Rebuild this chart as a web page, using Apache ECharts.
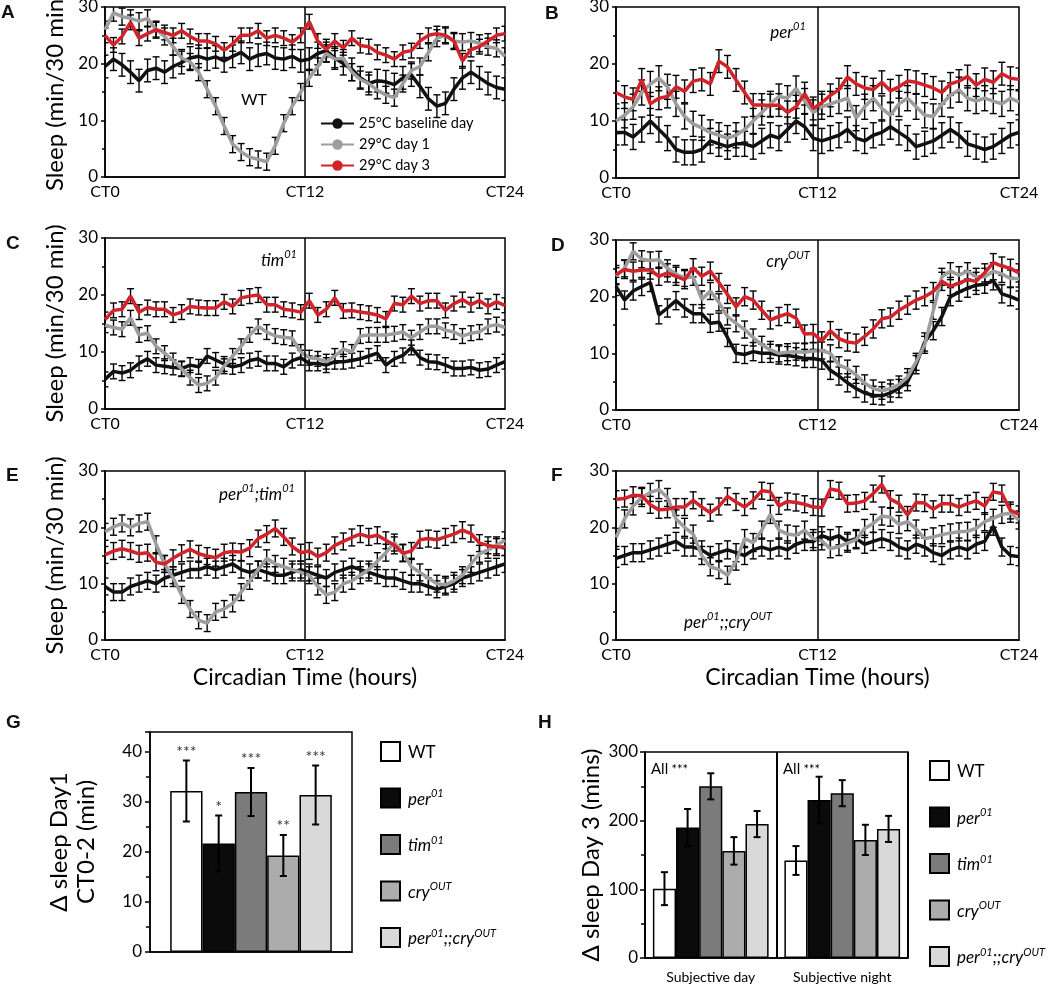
<!DOCTYPE html>
<html><head><meta charset="utf-8">
<script src="https://cdn.jsdelivr.net/npm/echarts/dist/echarts.min.js"></script>
<style>html,body{margin:0;padding:0;background:#fff}#c{width:1050px;height:986px}</style>
</head><body><div id="c"></div>
<script>
// ---------- data: sleep per 30-min bin (48 bins, CT0..CT24) ----------
const LINE_NAMES = ['25°C baseline day', '29°C day 1', '29°C day 3'];
const X_TICKS = ['CT0', 'CT12', 'CT24'];

const A_base = [19.5,20.8,19.8,18.5,17.0,18.8,19.2,18.5,19.5,20.2,21.0,21.3,20.8,21.2,20.5,21.3,22.0,20.8,21.5,21.8,21.0,20.8,21.3,20.5,20.8,21.8,22.3,21.0,20.0,19.0,17.5,16.5,17.0,16.8,16.3,17.5,18.0,16.0,13.8,12.5,13.0,15.5,17.5,18.5,17.5,16.5,15.8,15.5];
const A_day1 = [26.0,29.0,28.3,28.0,27.5,28.0,26.0,24.8,23.0,21.0,20.3,18.5,15.5,12.5,9.0,5.8,4.4,3.5,3.1,2.7,5.5,9.5,12.5,15.0,17.5,19.5,21.8,20.8,21.0,18.5,17.2,16.5,15.3,14.5,14.0,16.5,18.8,19.5,22.0,24.5,25.0,24.0,23.8,24.0,23.6,23.0,22.7,21.3];
const A_day3 = [25.0,23.3,24.8,27.3,24.5,25.3,26.0,25.5,25.0,25.8,24.8,24.0,24.0,23.5,22.4,23.5,25.0,25.0,25.8,24.5,25.0,24.5,23.8,25.0,27.4,24.0,22.5,24.0,22.8,24.5,23.2,23.0,22.0,21.5,20.8,22.0,22.3,24.0,25.0,25.3,25.0,24.0,20.5,22.5,23.0,24.0,25.0,25.3];
const A_sem = [2.0, 1.5, 1.3];

const B_base = [8.0,8.0,7.2,8.5,10.0,8.5,7.0,5.0,4.5,4.5,5.0,6.5,6.0,5.5,6.0,6.0,5.5,6.5,7.5,7.0,8.5,10.0,9.0,7.0,6.5,7.0,7.5,8.5,7.0,6.5,7.5,8.0,9.0,8.0,7.0,5.5,6.0,6.5,7.5,8.5,7.5,6.0,5.5,5.0,5.5,6.5,7.5,8.0];
const B_day1 = [10.0,11.0,12.5,15.0,16.5,17.5,16.0,13.0,10.8,9.5,8.8,8.0,7.5,7.0,7.5,8.5,10.0,11.5,13.0,14.3,14.0,15.7,13.5,11.5,12.5,13.0,13.5,14.0,10.5,12.5,14.0,12.2,11.0,13.0,14.0,12.5,11.0,10.8,13.0,14.5,15.5,14.0,13.5,14.0,13.5,13.0,14.0,13.3];
const B_day3 = [15.0,14.2,13.8,17.2,13.0,14.0,14.3,16.0,15.2,17.0,17.3,16.5,20.5,19.5,17.2,15.0,12.8,12.8,12.7,12.8,11.5,12.5,14.8,12.2,13.2,14.5,15.5,17.7,16.5,15.8,15.5,16.8,15.3,16.0,17.0,16.8,16.3,15.8,15.0,16.5,17.0,17.8,16.3,17.3,16.8,18.3,17.5,17.3];
const B_sem = [2.2, 2.2, 2.0];

const C_base = [5.2,6.6,6.3,6.8,8.0,8.8,7.7,7.5,7.3,7.1,7.7,7.4,9.3,8.6,7.9,7.4,7.7,8.5,8.8,8.0,8.0,7.4,8.5,9.0,8.0,8.0,7.7,8.3,8.3,8.5,8.8,9.3,9.8,7.7,8.8,9.4,10.8,9.0,8.3,8.2,7.7,7.1,7.1,7.3,6.8,7.0,7.7,8.3];
const C_day1 = [14.7,14.3,14.0,16.0,13.0,13.3,11.0,9.8,8.5,7.0,5.5,4.2,4.5,5.5,7.5,9.3,11.0,13.0,14.5,13.5,12.8,12.6,12.4,10.0,9.0,8.8,8.3,9.3,10.5,10.0,12.8,13.0,13.0,13.0,13.2,13.5,12.5,13.5,14.5,14.5,13.8,13.5,12.8,13.3,13.5,14.5,14.8,14.3];
const C_day3 = [15.7,17.3,17.5,19.8,17.0,17.8,17.5,17.5,16.5,17.0,18.0,17.8,17.7,17.7,18.8,18.0,19.5,19.8,20.0,18.3,18.3,17.5,17.3,17.0,19.0,16.5,17.5,19.5,17.2,17.3,17.0,16.8,16.5,15.8,18.5,18.3,19.8,18.5,19.0,19.0,17.3,18.5,19.2,18.3,19.0,18.0,18.8,18.2];
const C_sem = [1.3, 1.3, 1.3];

const D_base = [21.8,19.4,21.0,21.8,22.5,16.8,18.0,19.3,18.0,17.0,17.0,15.3,15.5,12.8,10.0,9.8,10.3,10.0,10.0,9.7,9.6,9.4,9.1,9.1,8.8,7.0,6.0,4.8,3.8,3.0,2.6,2.5,3.0,3.8,5.0,8.0,12.0,14.0,16.5,20.0,20.8,21.5,22.0,22.2,22.8,20.5,20.0,19.4];
const D_day1 = [23.6,25.0,28.0,26.6,26.4,26.5,25.0,24.0,23.3,23.5,19.5,21.0,19.0,16.5,15.3,14.2,12.8,11.5,10.6,10.0,10.2,10.3,10.2,10.4,10.5,10.0,7.9,7.3,6.2,4.7,3.8,3.4,3.8,4.5,5.8,8.5,11.5,17.5,23.5,24.5,23.8,24.5,23.5,23.5,24.5,24.0,23.2,23.2];
const D_day3 = [23.9,24.8,24.5,24.7,24.7,23.6,24.2,23.6,23.0,25.1,23.6,24.5,22.5,20.4,18.2,20.0,19.4,17.6,15.9,16.5,17.0,16.2,13.4,13.5,12.2,14.0,12.6,12.0,11.8,13.0,14.3,16.1,16.4,17.6,18.5,19.4,20.0,20.9,22.7,21.8,22.4,23.0,22.7,24.2,26.0,25.4,25.0,24.2];
const D_sem = [1.6, 1.5, 1.6];

const E_base = [9.5,8.5,8.5,9.5,10.0,10.5,10.0,11.0,11.5,12.0,12.5,12.5,13.0,12.5,13.0,13.5,12.5,12.0,12.5,12.0,11.5,11.5,12.0,12.5,12.0,11.5,11.0,12.0,12.5,13.0,12.5,12.0,11.5,11.0,11.0,10.5,10.0,10.0,9.5,9.0,9.5,10.0,11.0,11.5,12.0,12.5,13.0,13.5];
const E_day1 = [19.2,20.1,20.7,20.0,20.7,21.0,17.0,13.5,11.0,8.0,5.5,3.5,3.0,5.0,5.5,6.5,8.5,10.5,12.5,14.5,13.5,13.0,12.5,12.0,11.5,9.5,8.0,8.5,10.0,10.5,11.5,12.5,14.0,15.5,17.3,15.5,13.0,12.0,11.0,10.0,9.8,10.5,11.5,13.5,15.3,16.0,16.8,17.7];
const E_day3 = [15.1,15.8,16.2,15.8,15.3,15.5,13.8,13.5,14.5,15.4,16.1,15.3,14.9,14.6,15.5,15.7,15.6,16.3,18.0,18.8,19.8,18.3,16.6,15.5,15.8,14.8,15.5,16.8,17.5,18.2,18.8,18.3,18.6,17.7,16.8,15.4,15.8,17.8,18.0,17.8,18.3,18.8,19.5,18.9,17.2,16.8,16.5,16.5];
const E_sem = [1.5, 1.5, 1.5];

const F_base = [14.5,15.0,15.5,15.5,16.0,16.5,17.0,17.5,16.5,16.5,16.0,15.0,15.5,16.0,15.5,15.0,16.0,16.5,16.0,16.5,16.0,17.0,17.5,17.5,18.5,18.0,18.5,17.5,18.0,17.0,17.5,18.0,17.5,16.5,16.0,17.0,16.5,15.5,15.0,16.0,16.5,16.0,17.0,17.5,20.2,16.5,15.0,14.8];
const F_day1 = [18.2,21.5,23.8,25.3,26.2,26.7,25.3,21.5,20.0,18.8,15.0,13.0,12.5,11.5,14.0,18.0,17.3,19.5,22.3,19.5,18.8,18.6,19.5,18.0,17.6,16.2,16.6,17.2,17.8,19.8,20.7,22.0,21.8,20.5,21.0,19.7,18.0,18.3,18.7,19.0,19.2,19.3,19.8,21.0,21.6,22.3,22.5,21.3];
const F_day3 = [25.0,25.1,25.7,25.6,24.0,23.1,23.2,23.6,23.6,24.8,23.6,22.6,23.7,25.5,24.5,23.6,24.8,26.5,26.3,23.8,24.6,24.4,24.1,23.6,23.5,26.8,26.5,24.2,24.3,24.7,26.0,27.6,25.0,24.2,22.2,24.4,24.3,23.2,24.2,24.2,23.6,24.2,24.7,23.8,26.3,26.0,23.0,22.3];
const F_sem = [1.6, 1.6, 1.5];

// ---------- bar charts ----------
const GENOTYPES = ['WT', 'per01', 'tim01', 'cryOUT', 'per01;;cryOUT'];
const G_vals = [32.2, 21.7, 32.0, 19.3, 31.4];
const G_err  = [6.1, 5.6, 4.8, 4.1, 5.9];
const G_sig  = ['***', '*', '***', '**', '***'];
const H_cats = ['Subjective day', 'Subjective night'];
const H_day   = [101, 190, 250, 156, 195];
const H_night = [142, 230, 240, 172, 188];
const H_day_err   = [24, 27, 19, 20, 19];
const H_night_err = [21, 34, 19, 22, 19];

// ---------- styling ----------
const FONT = 'Lato, "Open Sans", sans-serif';
const LINE_COLORS = ['#111111', '#9d9d9d', '#d2232a'];
const GENO_COLORS = ['#ffffff', '#0b0b0b', '#7b7b7b', '#acacac', '#d9d9d9'];
const GENO_RICH = {
  'WT': '{n|WT}',
  'per01': '{i|per}{s|01}',
  'tim01': '{i|tim}{s|01}',
  'cryOUT': '{i|cry}{s|OUT}',
  'per01;;cryOUT': '{i|per}{s|01}{i|;;cry}{s|OUT}'
};
function richStyles(fs, ss) {
  return {
    n: {fontSize: fs, fontFamily: FONT, color: '#000', lineHeight: fs + 3, verticalAlign: 'bottom'},
    i: {fontSize: fs, fontFamily: FONT, fontStyle: 'italic', color: '#000', lineHeight: fs + 3, verticalAlign: 'bottom'},
    s: {fontSize: ss, fontFamily: FONT, fontStyle: 'italic', color: '#000', lineHeight: ss, verticalAlign: 'top'}
  };
}

const panels = [
  {base: A_base, day1: A_day1, day3: A_day3, sem: A_sem, grid: {left: 105, top: 7, width: 400, height: 170}, yName: true, xName: false},
  {base: B_base, day1: B_day1, day3: B_day3, sem: B_sem, grid: {left: 616, top: 7, width: 403, height: 171}, yName: false, xName: false},
  {base: C_base, day1: C_day1, day3: C_day3, sem: C_sem, grid: {left: 105, top: 238, width: 400, height: 171}, yName: true, xName: false},
  {base: D_base, day1: D_day1, day3: D_day3, sem: D_sem, grid: {left: 616, top: 240, width: 403, height: 170}, yName: false, xName: false},
  {base: E_base, day1: E_day1, day3: E_day3, sem: E_sem, grid: {left: 105, top: 471, width: 400, height: 169}, yName: true, xName: true},
  {base: F_base, day1: F_day1, day3: F_day3, sem: F_sem, grid: {left: 616, top: 471, width: 403, height: 169}, yName: false, xName: true}
];

function lineErr(params, api) {
  const x = api.value(0), y = api.value(1), e = api.value(2);
  const p1 = api.coord([x, y + e]), p2 = api.coord([x, y - e]);
  const w = 3.5, st = {stroke: '#000', lineWidth: 1.4};
  return {type: 'group', children: [
    {type: 'line', shape: {x1: p1[0], y1: p1[1], x2: p2[0], y2: p2[1]}, style: st},
    {type: 'line', shape: {x1: p1[0] - w, y1: p1[1], x2: p1[0] + w, y2: p1[1]}, style: st},
    {type: 'line', shape: {x1: p2[0] - w, y1: p2[1], x2: p2[0] + w, y2: p2[1]}, style: st}
  ]};
}

function barErr(k, n, gap, sigs) {
  return function (params, api) {
    const c = api.value(0), v = api.value(1), e = api.value(2);
    const band = api.size([1, 0])[0];
    const total = band * (1 - gap), bw = total / n;
    const cx = api.coord([c, v])[0] - total / 2 + (k + 0.5) * bw;
    const top = api.coord([c, v + e])[1], bot = api.coord([c, v - e])[1];
    const w = 3.5, st = {stroke: '#000', lineWidth: 2};
    const ch = [
      {type: 'line', shape: {x1: cx, y1: top, x2: cx, y2: bot}, style: st},
      {type: 'line', shape: {x1: cx - w, y1: top, x2: cx + w, y2: top}, style: st},
      {type: 'line', shape: {x1: cx - w, y1: bot, x2: cx + w, y2: bot}, style: st}
    ];
    if (sigs) ch.push({type: 'text', style: {text: sigs[params.dataIndex], x: cx, y: top - 1, align: 'center', verticalAlign: 'bottom', fontSize: 16, fontFamily: FONT, fill: '#333'}});
    return {type: 'group', children: ch};
  };
}

const grids = [], xAxes = [], yAxes = [], series = [];
panels.forEach((p, pi) => {
  grids.push(Object.assign({show: true, borderColor: '#000', borderWidth: 1.5, backgroundColor: '#fff', containLabel: false, outerBoundsMode: 'none'}, p.grid));
  xAxes.push({
    type: 'value', gridIndex: pi, min: 0, max: 24, interval: 12,
    axisLine: {show: true, lineStyle: {color: '#000', width: 1.5}},
    axisTick: {show: false}, splitLine: {show: false},
    axisLabel: {color: '#000', fontSize: 16, fontFamily: FONT, margin: 7, showMinLabel: true, showMaxLabel: true,
      formatter: v => X_TICKS[Math.round(v / 12)]},
    name: p.xName ? 'Circadian Time (hours)' : '', nameLocation: 'middle', nameGap: 26,
    nameTextStyle: {fontSize: 23, fontFamily: FONT, color: '#000'}
  });
  yAxes.push({
    type: 'value', gridIndex: pi, min: 0, max: 30, interval: 10,
    axisLine: {show: true, lineStyle: {color: '#000', width: 1.5}},
    axisTick: {show: true, length: 4, lineStyle: {color: '#000', width: 1.5}},
    minorTick: {show: true, splitNumber: 2, length: 3, lineStyle: {color: '#000', width: 1.5}},
    splitLine: {show: false}, minorSplitLine: {show: false},
    axisLabel: {color: '#000', fontSize: 17, fontFamily: FONT, margin: 7},
    name: p.yName ? 'Sleep (min/30 min)' : '', nameLocation: 'middle', nameGap: 38, nameMoveOverlap: false,
    nameTextStyle: {fontSize: 24, fontFamily: FONT, color: '#000'}
  });
  const sets = [p.base, p.day1, p.day3];
  sets.forEach((vals, k) => {
    series.push({
      type: 'custom', xAxisIndex: pi, yAxisIndex: pi, clip: true, silent: true, z: 2,
      renderItem: lineErr,
      data: vals.map((v, i) => [i * 24 / (vals.length - 1), v, p.sem[k]])
    });
  });
  sets.forEach((vals, k) => {
    const s = {
      type: 'line', name: LINE_NAMES[k], xAxisIndex: pi, yAxisIndex: pi,
      symbol: 'none', showSymbol: false, z: 3 + k,
      lineStyle: {color: LINE_COLORS[k], width: 3.5}, itemStyle: {color: LINE_COLORS[k]},
      data: vals.map((v, i) => [i * 24 / (vals.length - 1), v])
    };
    if (k === 0) s.markLine = {silent: true, symbol: ['none', 'none'], label: {show: false},
      lineStyle: {color: '#000', width: 1.5, type: 'solid'}, data: [{xAxis: 12}], animation: false};
    series.push(s);
  });
});

// G panel (grid 6)
grids.push({show: true, borderColor: '#000', borderWidth: 1.5, backgroundColor: '#fff', left: 150, top: 732, width: 202, height: 220, outerBoundsMode: 'none'});
xAxes.push({type: 'category', gridIndex: 6, data: ['G'], axisLabel: {show: false}, axisTick: {show: false},
  axisLine: {show: true, lineStyle: {color: '#000', width: 1.5}}});
yAxes.push({type: 'value', gridIndex: 6, min: 0, max: 44, interval: 10,
  axisLine: {show: true, lineStyle: {color: '#000', width: 1.5}},
  axisTick: {show: true, length: 5, lineStyle: {color: '#000', width: 1.5}},
  minorTick: {show: true, splitNumber: 2, length: 4, lineStyle: {color: '#000', width: 1.5}},
  splitLine: {show: false},
  axisLabel: {color: '#000', fontSize: 17, fontFamily: FONT, margin: 8, showMaxLabel: false},
  name: 'Δ sleep Day1\nCT0-2 (min)', nameLocation: 'middle', nameGap: 50, nameMoveOverlap: false,
  nameTextStyle: {fontSize: 24, lineHeight: 27, fontFamily: FONT, color: '#000', align: 'center'}});
GENOTYPES.forEach((g, k) => {
  series.push({type: 'bar', name: g, xAxisIndex: 6, yAxisIndex: 6, data: [G_vals[k]],
    barGap: '0%', barCategoryGap: '20%',
    itemStyle: {color: GENO_COLORS[k], borderColor: '#000', borderWidth: 1.5}});
});
GENOTYPES.forEach((g, k) => {
  series.push({type: 'custom', xAxisIndex: 6, yAxisIndex: 6, z: 5, silent: true,
    renderItem: barErr(k, 5, 0.2, [G_sig[k]]), data: [[0, G_vals[k], G_err[k]]]});
});

// H panel (grid 7)
grids.push({show: true, borderColor: '#000', borderWidth: 1.5, backgroundColor: '#fff', left: 645, top: 752, width: 263, height: 206, outerBoundsMode: 'none'});
xAxes.push({type: 'category', gridIndex: 7, data: H_cats, axisTick: {show: false},
  axisLine: {show: true, lineStyle: {color: '#000', width: 1.5}},
  splitLine: {show: true, interval: 0, lineStyle: {color: '#000', width: 2}},
  axisLabel: {color: '#000', fontSize: 14, fontFamily: FONT, margin: 12}});
yAxes.push({type: 'value', gridIndex: 7, min: 0, max: 300, interval: 100,
  axisLine: {show: true, lineStyle: {color: '#000', width: 1.5}},
  axisTick: {show: true, length: 5, lineStyle: {color: '#000', width: 1.5}},
  minorTick: {show: true, splitNumber: 2, length: 4, lineStyle: {color: '#000', width: 1.5}},
  splitLine: {show: false},
  axisLabel: {color: '#000', fontSize: 17, fontFamily: FONT, margin: 7},
  name: 'Δ sleep Day 3 (mins)', nameLocation: 'middle', nameGap: 42, nameMoveOverlap: false,
  nameTextStyle: {fontSize: 24, fontFamily: FONT, color: '#000'}});
GENOTYPES.forEach((g, k) => {
  series.push({type: 'bar', name: g, xAxisIndex: 7, yAxisIndex: 7, data: [H_day[k], H_night[k]],
    barGap: '0%', barCategoryGap: '12%',
    itemStyle: {color: GENO_COLORS[k], borderColor: '#000', borderWidth: 1.5}});
});
GENOTYPES.forEach((g, k) => {
  series.push({type: 'custom', xAxisIndex: 7, yAxisIndex: 7, z: 5, silent: true,
    renderItem: barErr(k, 5, 0.12, null),
    data: [[0, H_day[k], H_day_err[k]], [1, H_night[k], H_night_err[k]]]});
});

// ---------- annotations ----------
function letter(t, x, y) {
  return {type: 'text', left: x, top: y, z: 100, style: {text: t, fontSize: 19, fontWeight: 'bold', fontFamily: 'Liberation Sans, Arial, sans-serif', fill: '#111'}};
}
function tag(t, x, y, fs, ss) {
  return {type: 'text', z: 100, x: x, y: y, style: {text: t, x: 0, y: 0, align: 'center', verticalAlign: 'middle', rich: richStyles(fs, ss)}};
}
const graphics = [
  letter('A', 1, 3), letter('B', 545, 4), letter('C', 6, 234), letter('D', 551, 236),
  letter('E', 6, 466), letter('F', 551, 466), letter('G', 6, 713), letter('H', 538, 713),
  tag('{n|WT}', 254, 98, 16, 10),
  tag('{i|per}{s|01}', 788, 31, 17, 11),
  tag('{i|tim}{s|01}', 279, 259, 17, 11),
  tag('{i|cry}{s|OUT}', 788, 260, 17, 11),
  tag('{i|per}{s|01}{i|;tim}{s|01}', 257, 493, 17, 11),
  tag('{i|per}{s|01}{i|;;cry}{s|OUT}', 728, 621, 17, 11),
  {type: 'text', z: 100, left: 651, top: 762, style: {text: '{a|All} {b|***}', rich: {a: {fontSize: 15, fontFamily: FONT, color: '#000'}, b: {fontSize: 13, fontFamily: FONT, color: '#333'}}}},
  {type: 'text', z: 100, left: 783, top: 762, style: {text: '{a|All} {b|***}', rich: {a: {fontSize: 15, fontFamily: FONT, color: '#000'}, b: {fontSize: 13, fontFamily: FONT, color: '#333'}}}}
];

const genoLegend = (left, top) => ({
  data: GENOTYPES, orient: 'vertical', left: left, top: top, padding: 0,
  itemWidth: 19, itemHeight: 19, itemGap: 25.5,
  icon: 'rect', selectedMode: false,
  itemStyle: {borderColor: '#000', borderWidth: 2},
  formatter: n => GENO_RICH[n],
  textStyle: {fontSize: 17, fontFamily: FONT, color: '#000', padding: [0, 0, 0, 3], rich: richStyles(17, 11)}
});

const option = {
  animation: false,
  backgroundColor: '#fff',
  textStyle: {fontFamily: FONT},
  grid: grids, xAxis: xAxes, yAxis: yAxes, series: series,
  legend: [
    {data: LINE_NAMES, orient: 'vertical', left: 320, top: 116, padding: 0, itemWidth: 33, itemHeight: 13, itemGap: 6,
      selectedMode: false, textStyle: {fontSize: 14.5, fontFamily: FONT, color: '#000'}},
    genoLegend(380, 741),
    genoLegend(929, 760)
  ],
  graphic: graphics
};
const chart = echarts.init(document.getElementById('c'), null, {renderer: 'canvas'});
chart.setOption(option);
</script></body></html>
